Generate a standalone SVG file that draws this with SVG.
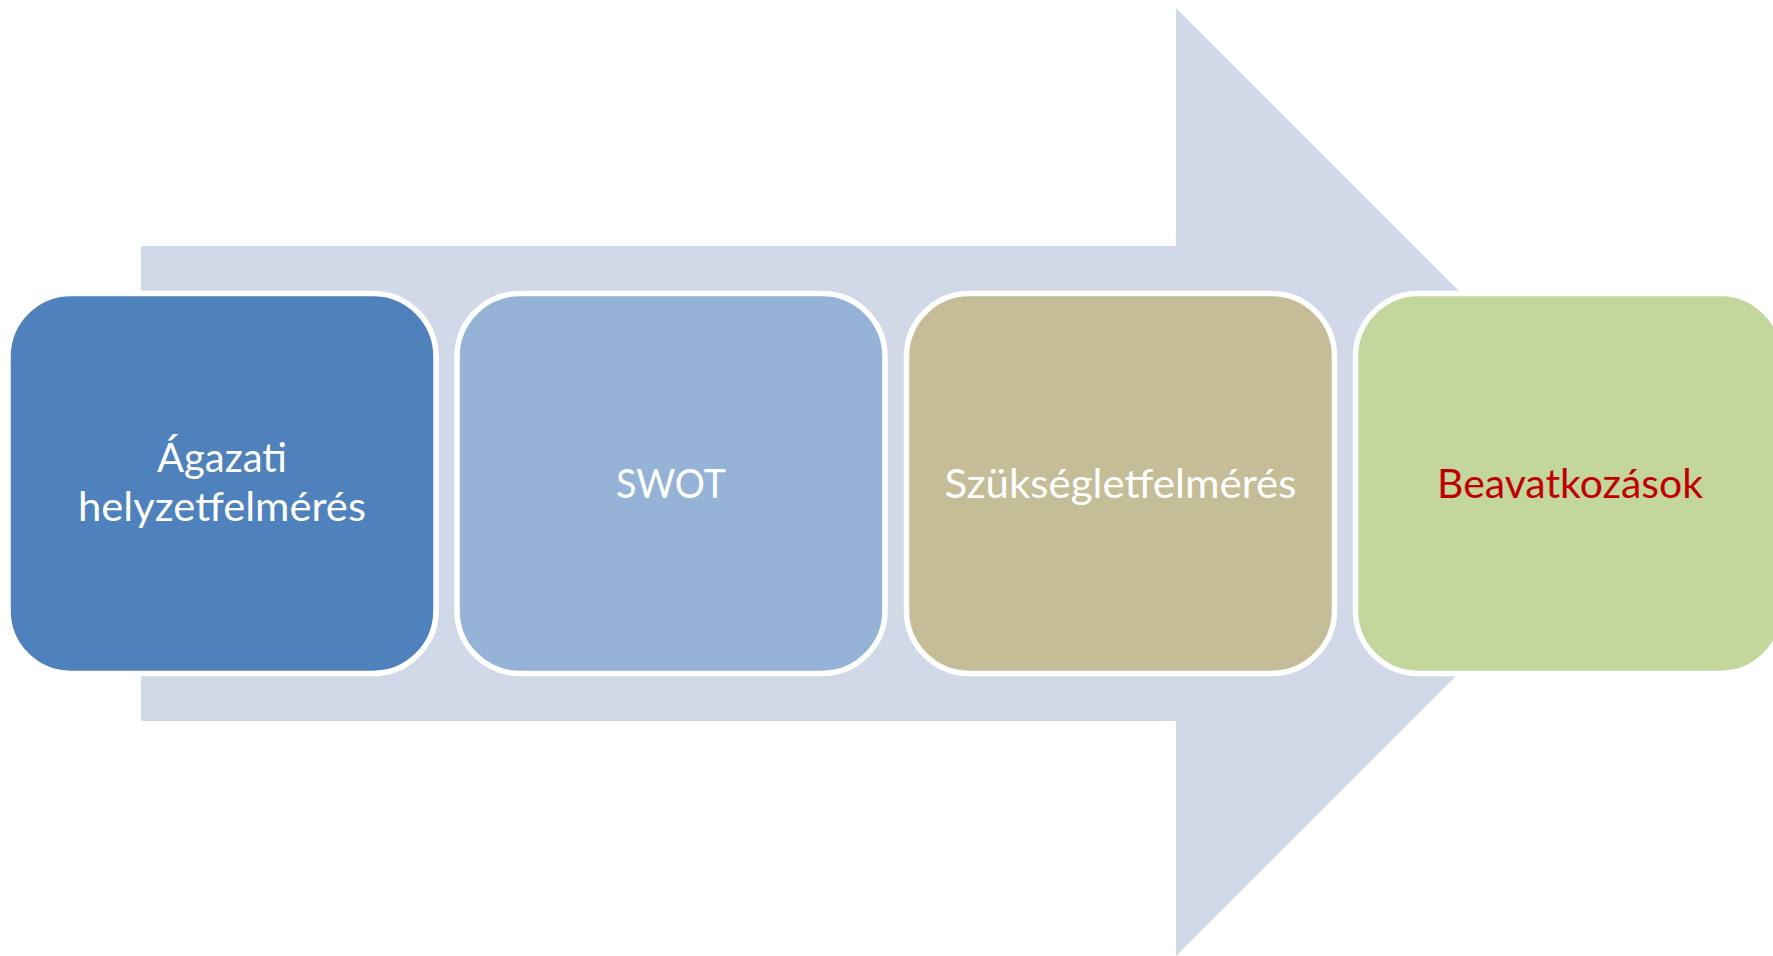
<svg xmlns="http://www.w3.org/2000/svg" width="1773" height="956" viewBox="0 0 1773 956">
  <style>
    .box { stroke: #FFFFFF; stroke-width: 5.5; }
    .lbl { font-family: Lato, "Liberation Sans", Arial, sans-serif; font-size: 40px; text-anchor: middle; fill: #FFFFFF; }
    .red { fill: #C00000; }
  </style>
  <rect x="0" y="0" width="1773" height="956" fill="#FFFFFF"/>
  <g id="connectors">
    <polygon id="process-arrow" points="141,246 1176,246 1176,8 1650,482 1176,956 1176,721 141,721" fill="#D1D9E8"/>
  </g>
  <g id="node-agazati">
    <rect class="box" x="8" y="293.5" width="428" height="380" rx="63" ry="63" fill="#4F81BD"/>
    <text class="lbl" x="222" y="472" textLength="130" lengthAdjust="spacingAndGlyphs">Ágazati</text>
    <text class="lbl" x="222" y="521" textLength="288" lengthAdjust="spacingAndGlyphs">helyzetfelmérés</text>
  </g>
  <g id="node-swot">
    <rect class="box" x="457" y="293.5" width="428" height="380" rx="63" ry="63" fill="#95B3D7"/>
    <text class="lbl" x="671" y="497.5" textLength="110" lengthAdjust="spacingAndGlyphs">SWOT</text>
  </g>
  <g id="node-szukseglet">
    <rect class="box" x="906.5" y="293.5" width="428" height="380" rx="63" ry="63" fill="#C4BD97"/>
    <text class="lbl" x="1120.5" y="497.5" textLength="352" lengthAdjust="spacingAndGlyphs">Szükségletfelmérés</text>
  </g>
  <g id="node-beavatkozasok">
    <rect class="box" x="1355.5" y="293.5" width="428" height="380" rx="63" ry="63" fill="#C3D69B"/>
    <text class="lbl red" x="1570" y="497.5" textLength="266" lengthAdjust="spacingAndGlyphs">Beavatkozások</text>
  </g>
</svg>
